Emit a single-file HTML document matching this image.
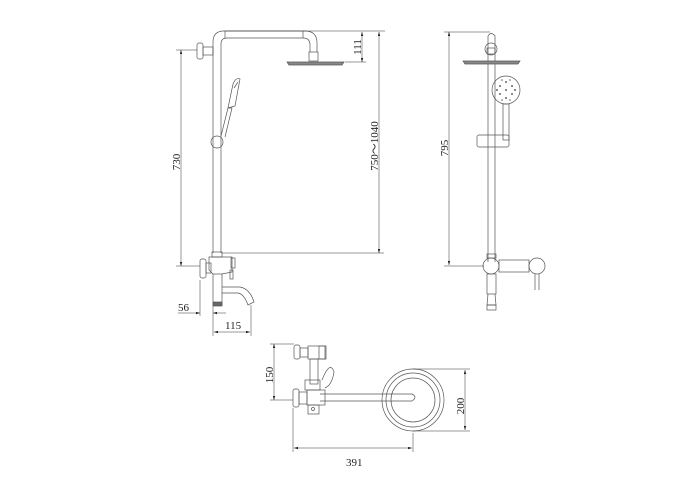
<!DOCTYPE html>
<html><head><meta charset="utf-8"><style>
html,body{margin:0;padding:0;background:#fff;}
svg{display:block;}
text{font-family:"Liberation Serif",serif;font-size:11px;fill:#222;}
</style></head><body>
<svg width="700" height="500" viewBox="0 0 700 500" xmlns="http://www.w3.org/2000/svg">
<defs>
<marker id="a" viewBox="0 0 10 6" refX="10" refY="3" markerWidth="8" markerHeight="5" orient="auto-start-reverse"><path d="M0,0 L10,3 L0,6 z" fill="#222"/></marker>
</defs>
<g fill="none" stroke="#555" stroke-width="0.7">
<path d="M213,253 L213,42 Q213,31 224,31 L305,31 Q317,31 317,43 L317,52"/>
<path d="M221,253 L221,44 Q221,38 227,38 L303,38 Q310,38 310,45 L310,52"/>
<line x1="225" y1="31" x2="225" y2="38"/><line x1="303" y1="31" x2="303" y2="38"/>
<rect x="309" y="52" width="9" height="9"/>
<path d="M287,62 L344,62 L342,65 L289,65 z" fill="#888"/>
<rect x="197" y="43" width="6" height="16" rx="2"/>
<rect x="203" y="47" width="10" height="8"/>
<line x1="213" y1="48" x2="213" y2="54"/>
<circle cx="217" cy="142" r="6"/>
<path d="M221,136 L228,108 L232,108 L225,137"/>
<path d="M228,108 L233,84 Q236,77 240,79 L235,106 z"/>
<line x1="234" y1="88" x2="238" y2="82"/>
<rect x="212" y="252" width="10" height="5"/>
<path d="M209,257 L232,257 L232,272 L222,274 L213,274 L209,270 z"/>
<rect x="200" y="259" width="6" height="19" rx="2"/>
<rect x="206" y="263" width="5" height="10"/>
<rect x="231" y="258" width="4" height="10"/>
<rect x="230" y="270" width="3" height="9"/>
<path d="M213,274 L213,305 L222,305 L222,274"/>
<rect x="213" y="302" width="9" height="4" fill="#666"/>
<path d="M222,287 L240,287 Q250,289 254,302 L248,305 Q244,294 238,293 L222,293"/>
<path d="M488,262 L488,36 Q491,31 495,36 L495,262"/>
<circle cx="491" cy="49" r="6"/>
<rect x="487" y="48" width="8" height="6"/>
<path d="M463,61 L520,61 L518,64 L465,64 z" fill="#888"/>
<circle cx="506" cy="90" r="14"/>
<g fill="#666" stroke="none">
<circle cx="506" cy="90" r="1"/><circle cx="500" cy="86" r="1"/><circle cx="512" cy="86" r="1"/><circle cx="500" cy="94" r="1"/><circle cx="512" cy="94" r="1"/><circle cx="506" cy="82" r="1"/><circle cx="506" cy="98" r="1"/><circle cx="497" cy="90" r="1"/><circle cx="515" cy="90" r="1"/><circle cx="502" cy="80" r="0.8"/><circle cx="510" cy="80" r="0.8"/><circle cx="502" cy="100" r="0.8"/><circle cx="510" cy="100" r="0.8"/>
</g>
<rect x="503" y="104" width="6" height="36"/>
<rect x="477" y="135" width="32" height="12" rx="2"/>
<rect x="487" y="254" width="9" height="4"/>
<circle cx="491" cy="266" r="8"/>
<rect x="499" y="260" width="30" height="12"/>
<circle cx="537" cy="266" r="8"/>
<line x1="535" y1="274" x2="535" y2="290"/><line x1="539" y1="274" x2="539" y2="290"/>
<rect x="487" y="274" width="9" height="20"/>
<path d="M488,294 L487,305 L496,305 L495,294"/>
<rect x="487" y="305" width="9" height="5"/>
<circle cx="413" cy="400" r="31"/>
<circle cx="413" cy="400" r="27"/>
<circle cx="413" cy="400" r="22"/>
<path d="M320,394 L412,394 Q418,397 412,401 L320,401"/>
<rect x="294" y="345" width="6" height="14" rx="2"/>
<rect x="300" y="348" width="8" height="9"/>
<rect x="308" y="346" width="18" height="13"/>
<rect x="319" y="346" width="6" height="13"/>
<rect x="310" y="359" width="8" height="25"/>
<path d="M322,380 Q330,360 334,372 Q332,385 325,388"/>
<rect x="305" y="380" width="15" height="10"/>
<rect x="293" y="389" width="6" height="18" rx="2"/>
<rect x="299" y="392" width="8" height="12"/>
<rect x="307" y="390" width="18" height="15"/>
<rect x="308" y="405" width="11" height="9"/>
<circle cx="313" cy="409" r="1.5"/>
</g>
<g stroke="#333" stroke-width="0.5" fill="none">
<line x1="181" y1="50" x2="181" y2="266" marker-start="url(#a)" marker-end="url(#a)"/>
<line x1="176" y1="50" x2="197" y2="50"/><line x1="176" y1="266" x2="200" y2="266"/>
<line x1="362" y1="32" x2="362" y2="62" marker-start="url(#a)" marker-end="url(#a)"/>
<line x1="345" y1="62" x2="366" y2="62"/>
<line x1="225" y1="31" x2="385" y2="31"/>
<line x1="379" y1="32" x2="379" y2="253" marker-start="url(#a)" marker-end="url(#a)"/>
<line x1="222" y1="253" x2="384" y2="253"/>
<line x1="200" y1="280" x2="200" y2="316"/>
<line x1="213" y1="306" x2="213" y2="336"/>
<line x1="251" y1="305" x2="251" y2="336"/>
<line x1="178" y1="313" x2="200" y2="313" marker-end="url(#a)"/>
<line x1="226" y1="313" x2="213" y2="313" marker-end="url(#a)"/>
<line x1="214" y1="332" x2="250" y2="332" marker-start="url(#a)" marker-end="url(#a)"/>
<line x1="449" y1="32" x2="449" y2="265" marker-start="url(#a)" marker-end="url(#a)"/>
<line x1="444" y1="32" x2="490" y2="32"/><line x1="444" y1="266" x2="484" y2="266"/>
<line x1="274" y1="344" x2="274" y2="400" marker-start="url(#a)" marker-end="url(#a)"/>
<line x1="270" y1="344" x2="294" y2="344"/><line x1="270" y1="400" x2="293" y2="400"/>
<line x1="465" y1="370" x2="465" y2="430" marker-start="url(#a)" marker-end="url(#a)"/>
<line x1="413" y1="369" x2="470" y2="369"/><line x1="413" y1="431" x2="470" y2="431"/>
<line x1="293" y1="408" x2="293" y2="452"/><line x1="413" y1="433" x2="413" y2="452"/>
<line x1="294" y1="448" x2="412" y2="448" marker-start="url(#a)" marker-end="url(#a)"/>
</g>
<g>
<text transform="translate(180,162) rotate(-90)" text-anchor="middle" font-size="10">730</text>
<text transform="translate(361,47) rotate(-90)" text-anchor="middle" font-size="10">111</text>
<text transform="translate(378,146) rotate(-90)" text-anchor="middle" font-size="10">750～1040</text>
<text x="178" y="311" font-size="10">56</text>
<text x="225" y="329" font-size="10">115</text>
<text transform="translate(448,148) rotate(-90)" text-anchor="middle" font-size="10">795</text>
<text transform="translate(273,375) rotate(-90)" text-anchor="middle" font-size="10">150</text>
<text transform="translate(464,406) rotate(-90)" text-anchor="middle" font-size="10">200</text>
<text x="346" y="466" font-size="12">391</text>
</g>
</svg>
</body></html>
